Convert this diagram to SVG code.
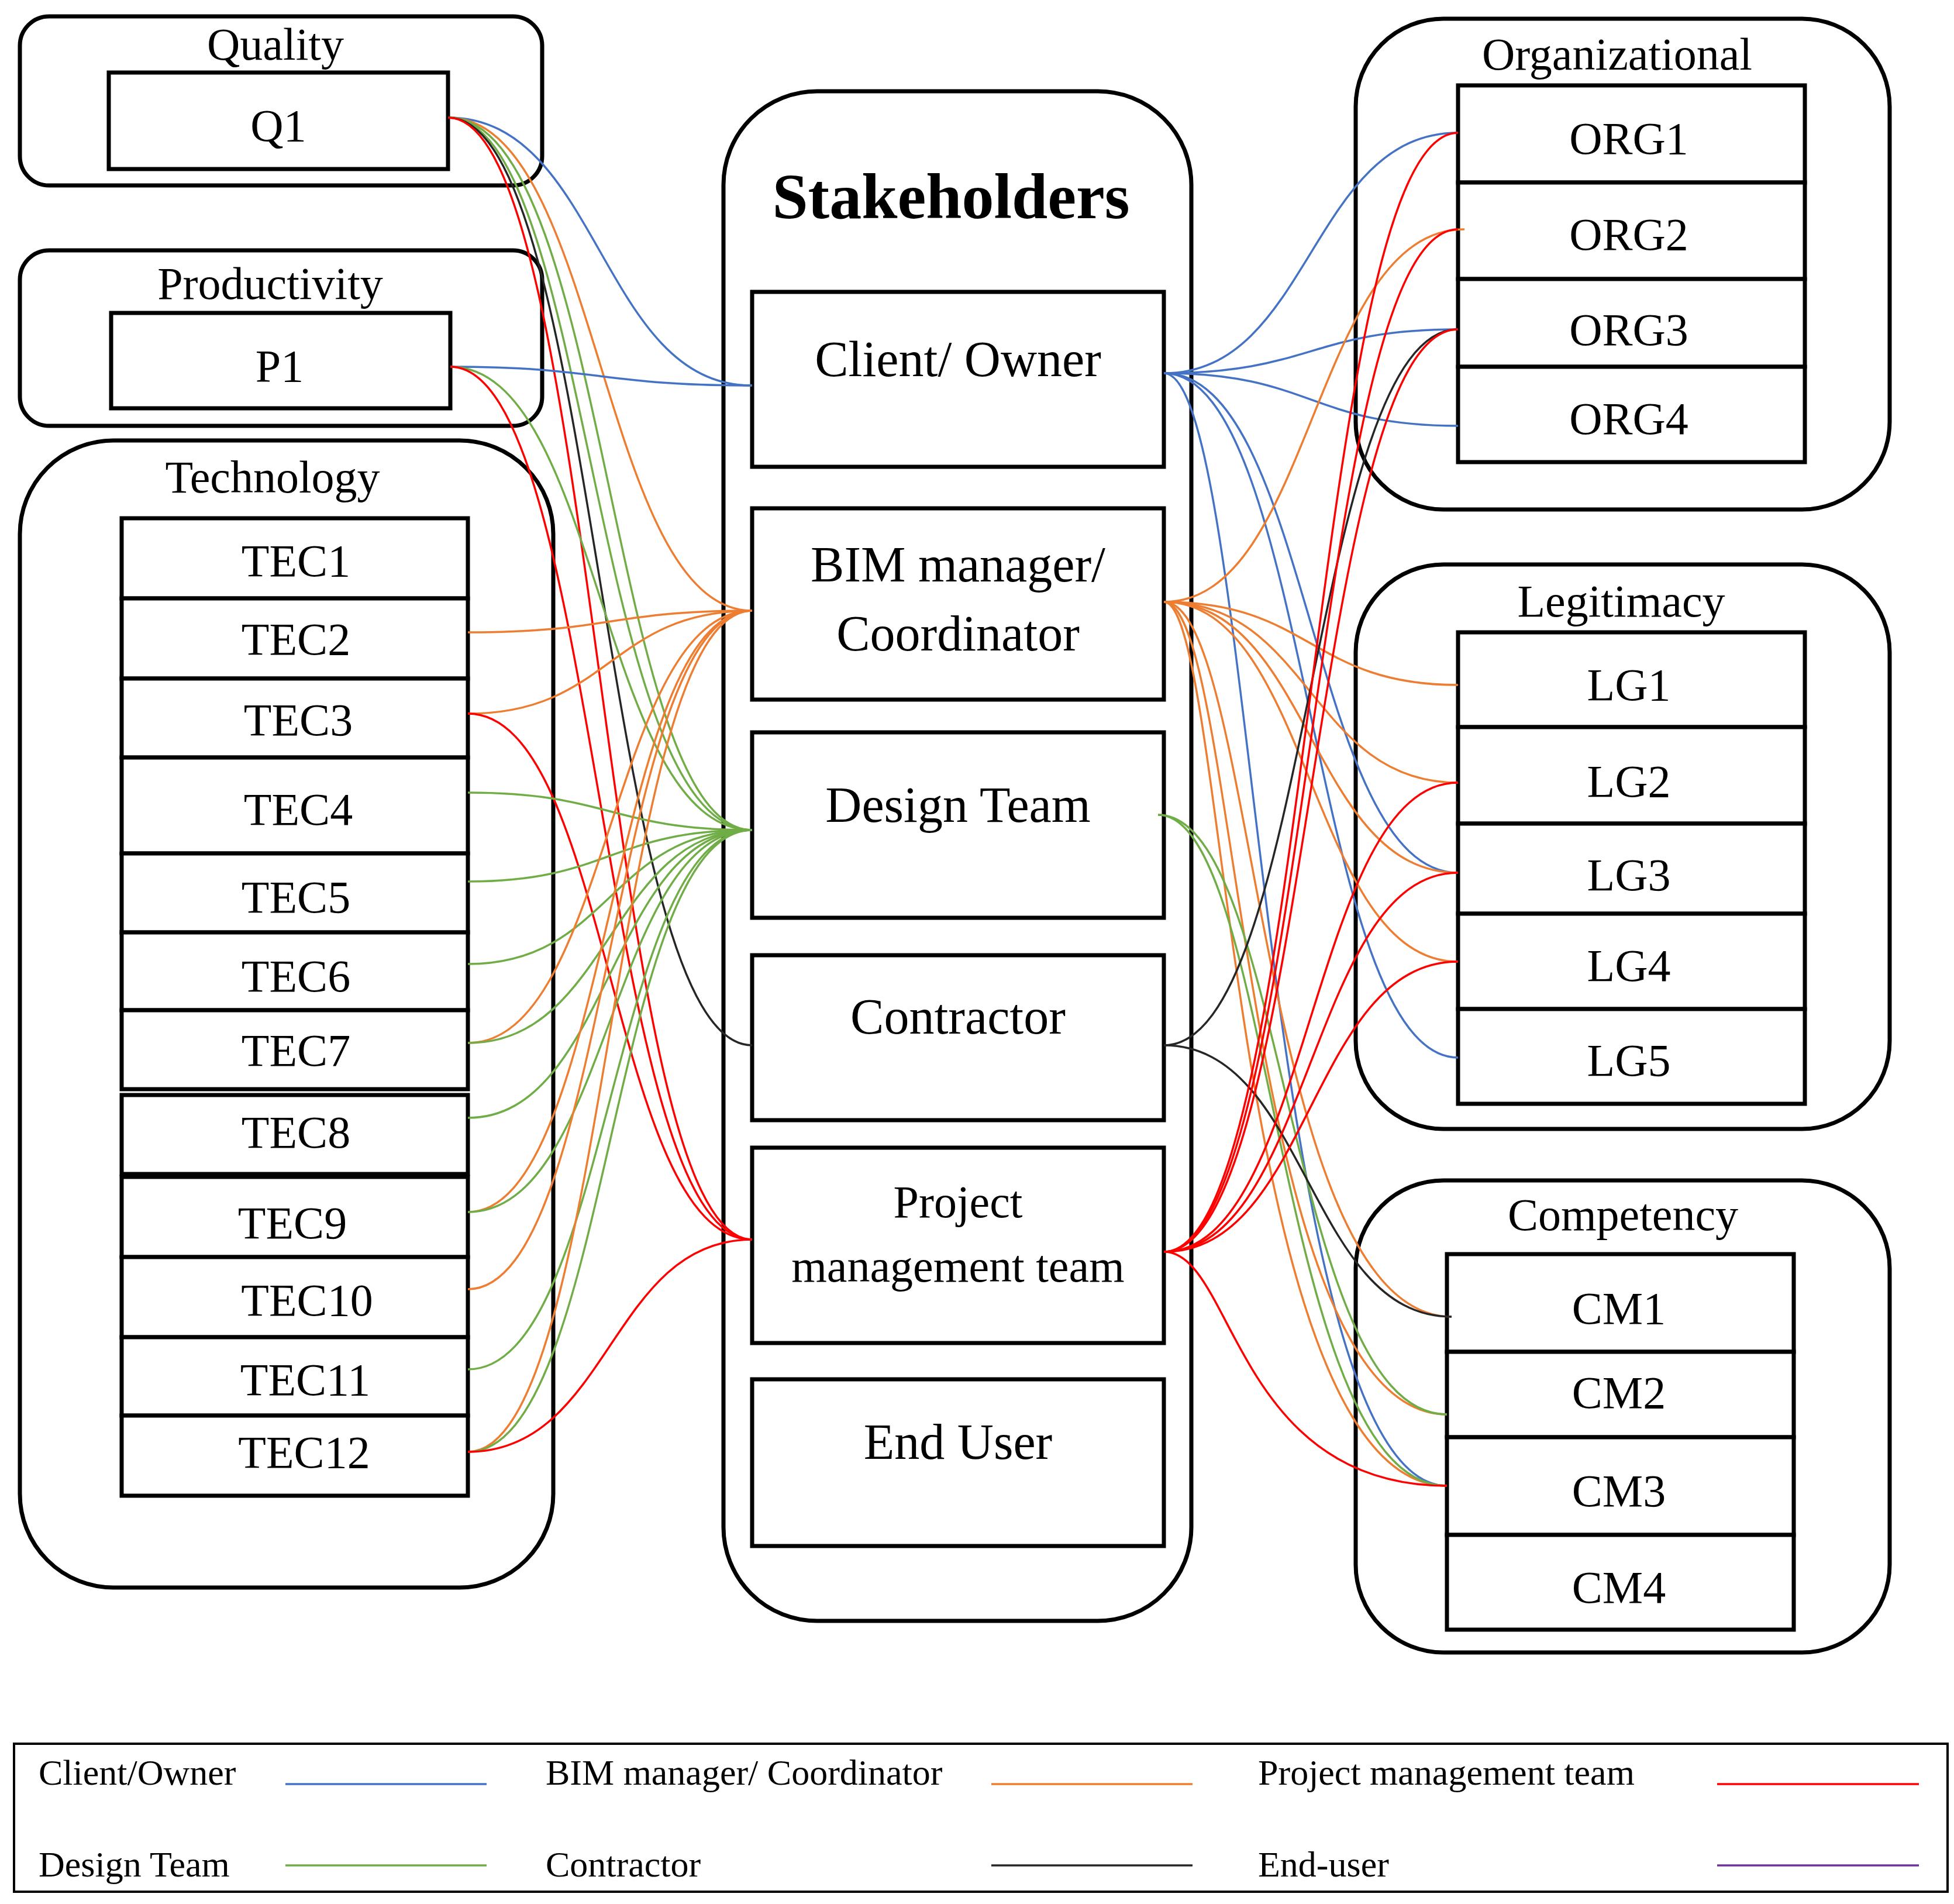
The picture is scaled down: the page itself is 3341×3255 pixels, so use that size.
<svg xmlns="http://www.w3.org/2000/svg" width="3341" height="3255" viewBox="0 0 3341 3255">
<style>
text{font-family:"Liberation Serif","Times New Roman",serif;fill:#000;text-anchor:middle;dominant-baseline:central}
.grp{fill:none;stroke:#000;stroke-width:7}
.box{fill:#fff;stroke:#000;stroke-width:7}
.t{font-size:78px}
.s{font-size:86px}
.lg{font-size:62px;text-anchor:start}
.c path{fill:none;stroke-width:3.5}
.b{stroke:#4472C4}.o{stroke:#ED7D31}.r{stroke:#FF0000}.g{stroke:#70AD47}.k{stroke:#262626}.p{stroke:#7030A0}
</style>
<rect width="3341" height="3255" fill="#fff"/>
<g id="quality"><rect class="grp" x="34" y="28" width="893" height="289" rx="50"/><text class="t" x="471" y="75">Quality</text>
<g id="Q1"><rect class="box" x="186" y="124" width="580" height="165"/><text class="t" x="476" y="214">Q1</text></g></g>
<g id="productivity"><rect class="grp" x="34" y="428" width="893" height="300" rx="50"/><text class="t" x="462" y="484">Productivity</text>
<g id="P1"><rect class="box" x="190" y="535" width="580" height="163"/><text class="t" x="478" y="625">P1</text></g></g>
<g id="technology"><rect class="grp" x="34" y="753" width="912" height="1961" rx="160"/><text class="t" x="466" y="815">Technology</text>
<g id="TEC1"><rect class="box" x="208" y="886" width="592" height="137"/><text class="t" x="506" y="958">TEC1</text></g>
<g id="TEC2"><rect class="box" x="208" y="1023" width="592" height="137"/><text class="t" x="506" y="1092">TEC2</text></g>
<g id="TEC3"><rect class="box" x="208" y="1160" width="592" height="135"/><text class="t" x="510" y="1230">TEC3</text></g>
<g id="TEC4"><rect class="box" x="208" y="1295" width="592" height="164"/><text class="t" x="510" y="1383">TEC4</text></g>
<g id="TEC5"><rect class="box" x="208" y="1459" width="592" height="135"/><text class="t" x="506" y="1533">TEC5</text></g>
<g id="TEC6"><rect class="box" x="208" y="1594" width="592" height="133"/><text class="t" x="506" y="1668">TEC6</text></g>
<g id="TEC7"><rect class="box" x="208" y="1727" width="592" height="135"/><text class="t" x="506" y="1795">TEC7</text></g>
<g id="TEC8"><rect class="box" x="208" y="1872" width="592" height="135"/><text class="t" x="506" y="1935">TEC8</text></g>
<g id="TEC9"><rect class="box" x="208" y="2012" width="592" height="137"/><text class="t" x="500" y="2090">TEC9</text></g>
<g id="TEC10"><rect class="box" x="208" y="2149" width="592" height="137"/><text class="t" x="525" y="2222">TEC10</text></g>
<g id="TEC11"><rect class="box" x="208" y="2286" width="592" height="134"/><text class="t" x="522" y="2358">TEC11</text></g>
<g id="TEC12"><rect class="box" x="208" y="2420" width="592" height="137"/><text class="t" x="520" y="2482">TEC12</text></g></g>
<g id="stakeholders"><rect class="grp" x="1237" y="156" width="800" height="2615" rx="160"/><text x="1626" y="336" font-size="110" font-weight="bold">Stakeholders</text>
<g id="client"><rect class="box" x="1286" y="499" width="704" height="299"/><text class="s" x="1638" y="614">Client/ Owner</text></g>
<g id="bim"><rect class="box" x="1286" y="869" width="704" height="327"/><text class="s" x="1638" y="965">BIM manager/</text><text class="s" x="1638" y="1083">Coordinator</text></g>
<g id="design"><rect class="box" x="1286" y="1252" width="704" height="317"/><text class="s" x="1638" y="1376">Design Team</text></g>
<g id="contractor"><rect class="box" x="1286" y="1633" width="704" height="282"/><text class="s" x="1638" y="1738">Contractor</text></g>
<g id="pm"><rect class="box" x="1286" y="1962" width="704" height="334"/><text class="t" x="1638" y="2054">Project</text><text class="t" x="1638" y="2164">management team</text></g>
<g id="enduser"><rect class="box" x="1286" y="2358" width="704" height="285"/><text class="s" x="1638" y="2465">End User</text></g></g>
<g id="organizational"><rect class="grp" x="2318" y="32" width="913" height="839" rx="150"/><text class="t" x="2765" y="92">Organizational</text>
<g id="ORG1"><rect class="box" x="2493" y="146" width="593" height="166"/><text class="t" x="2785" y="236">ORG1</text></g>
<g id="ORG2"><rect class="box" x="2493" y="312" width="593" height="165"/><text class="t" x="2785" y="400">ORG2</text></g>
<g id="ORG3"><rect class="box" x="2493" y="477" width="593" height="150"/><text class="t" x="2785" y="563">ORG3</text></g>
<g id="ORG4"><rect class="box" x="2493" y="627" width="593" height="163"/><text class="t" x="2785" y="715">ORG4</text></g></g>
<g id="legitimacy"><rect class="grp" x="2318" y="965" width="913" height="965" rx="150"/><text class="t" x="2772" y="1027">Legitimacy</text>
<g id="LG1"><rect class="box" x="2493" y="1081" width="593" height="162"/><text class="t" x="2785" y="1170">LG1</text></g>
<g id="LG2"><rect class="box" x="2493" y="1243" width="593" height="165"/><text class="t" x="2785" y="1335">LG2</text></g>
<g id="LG3"><rect class="box" x="2493" y="1408" width="593" height="154"/><text class="t" x="2785" y="1495">LG3</text></g>
<g id="LG4"><rect class="box" x="2493" y="1562" width="593" height="163"/><text class="t" x="2785" y="1650">LG4</text></g>
<g id="LG5"><rect class="box" x="2493" y="1725" width="593" height="162"/><text class="t" x="2785" y="1812">LG5</text></g></g>
<g id="competency"><rect class="grp" x="2318" y="2018" width="913" height="807" rx="150"/><text class="t" x="2775" y="2076">Competency</text>
<g id="CM1"><rect class="box" x="2474" y="2144" width="593" height="167"/><text class="t" x="2768" y="2236">CM1</text></g>
<g id="CM2"><rect class="box" x="2474" y="2311" width="593" height="146"/><text class="t" x="2768" y="2380">CM2</text></g>
<g id="CM3"><rect class="box" x="2474" y="2457" width="593" height="167"/><text class="t" x="2768" y="2548">CM3</text></g>
<g id="CM4"><rect class="box" x="2474" y="2624" width="593" height="162"/><text class="t" x="2768" y="2713">CM4</text></g></g>
<g id="connectors" class="c">
<path class="b" d="M766 201 C1026 201,1026 659,1286 659"/>
<path class="o" d="M766 201 C1026 201,1026 1044,1286 1044"/>
<path class="g" d="M766 201 C1010 201,1010 1419,1286 1419"/>
<path class="g" d="M766 201 C1040 201,1040 1419,1286 1419"/>
<path class="k" d="M766 201 C1026 201,1026 1787,1286 1787"/>
<path class="r" d="M766 201 C1026 201,1026 2119,1286 2119"/>
<path class="b" d="M770 627 C1026 627,1026 659,1286 659"/>
<path class="g" d="M770 627 C1026 627,1026 1419,1286 1419"/>
<path class="r" d="M770 627 C1026 627,1026 2119,1286 2119"/>
<path class="o" d="M800 1081 C1043 1081,1043 1044,1286 1044"/>
<path class="o" d="M800 1220 C1043 1220,1043 1044,1286 1044"/>
<path class="r" d="M800 1220 C1043 1220,1043 2119,1286 2119"/>
<path class="g" d="M800 1355 C1043 1355,1043 1419,1286 1419"/>
<path class="g" d="M800 1507 C1043 1507,1043 1419,1286 1419"/>
<path class="g" d="M800 1648 C1043 1648,1043 1419,1286 1419"/>
<path class="o" d="M800 1783 C1043 1783,1043 1044,1286 1044"/>
<path class="g" d="M800 1783 C1043 1783,1043 1419,1286 1419"/>
<path class="g" d="M800 1911 C1043 1911,1043 1419,1286 1419"/>
<path class="o" d="M800 2072 C1043 2072,1043 1044,1286 1044"/>
<path class="g" d="M800 2072 C1043 2072,1043 1419,1286 1419"/>
<path class="o" d="M800 2204 C1043 2204,1043 1044,1286 1044"/>
<path class="g" d="M800 2341 C1043 2341,1043 1419,1286 1419"/>
<path class="o" d="M800 2482 C1043 2482,1043 1044,1286 1044"/>
<path class="g" d="M800 2482 C1043 2482,1043 1419,1286 1419"/>
<path class="r" d="M800 2482 C1043 2482,1043 2119,1286 2119"/>
<path class="b" d="M1990 638 C2241 638,2241 227,2493 227"/>
<path class="b" d="M1990 638 C2241 638,2241 563,2493 563"/>
<path class="b" d="M1990 638 C2241 638,2241 728,2493 728"/>
<path class="b" d="M1990 638 C2241 638,2241 1492,2493 1492"/>
<path class="b" d="M1990 638 C2241 638,2241 1808,2493 1808"/>
<path class="b" d="M1990 638 C2150 638,2150 2540,2474 2540"/>
<path class="o" d="M1990 1029 C2245 1029,2245 392,2504 392"/>
<path class="o" d="M1990 1029 C2241 1029,2241 1171,2493 1171"/>
<path class="o" d="M1990 1029 C2241 1029,2241 1338,2493 1338"/>
<path class="o" d="M1990 1029 C2241 1029,2241 1492,2493 1492"/>
<path class="o" d="M1990 1029 C2241 1029,2241 1644,2493 1644"/>
<path class="o" d="M1990 1029 C2150 1029,2150 2251,2482 2251"/>
<path class="o" d="M1990 1029 C2120 1029,2120 2418,2474 2418"/>
<path class="o" d="M1990 1029 C2100 1029,2100 2540,2474 2540"/>
<path class="g" d="M1980 1393 C2200 1393,2200 2418,2474 2418"/>
<path class="g" d="M1980 1393 C2180 1393,2180 2540,2474 2540"/>
<path class="k" d="M1990 1787 C2241 1787,2241 563,2493 563"/>
<path class="k" d="M1990 1787 C2236 1787,2236 2251,2482 2251"/>
<path class="r" d="M1990 2140 C2241 2140,2241 227,2493 227"/>
<path class="r" d="M1990 2140 C2241 2140,2241 392,2493 392"/>
<path class="r" d="M1990 2140 C2241 2140,2241 563,2493 563"/>
<path class="r" d="M1990 2140 C2241 2140,2241 1338,2493 1338"/>
<path class="r" d="M1990 2140 C2241 2140,2241 1492,2493 1492"/>
<path class="r" d="M1990 2140 C2241 2140,2241 1644,2493 1644"/>
<path class="r" d="M1990 2140 C2110 2140,2110 2540,2474 2540"/>
</g>
<g id="legend">
<rect x="24" y="2981" width="3306" height="253" fill="none" stroke="#000" stroke-width="4"/>
<text class="lg" x="66" y="3030">Client/Owner</text>
<text class="lg" x="933" y="3030">BIM manager/ Coordinator</text>
<text class="lg" x="2151" y="3030">Project management team</text>
<text class="lg" x="66" y="3187">Design Team</text>
<text class="lg" x="933" y="3187">Contractor</text>
<text class="lg" x="2151" y="3187">End-user</text>
<g class="c">
<path class="b" d="M488 3050 H832"/><path class="o" d="M1695 3050 H2039"/><path class="r" d="M2936 3050 H3281"/>
<path class="g" d="M488 3189 H832"/><path class="k" d="M1695 3189 H2039"/><path class="p" d="M2936 3189 H3281"/>
</g></g>
</svg>
